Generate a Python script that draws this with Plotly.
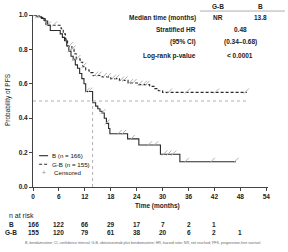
import plotly.graph_objects as go

# ---------------- data ----------------
b_time = [0, 0.8, 2.0, 2.8, 3.4, 4.0, 6.3, 6.8, 7.3, 7.8, 8.3, 8.8, 9.3, 9.8, 10.3, 10.8,
          11.3, 11.8, 12.2, 13.8, 14.5, 15.0, 15.5, 16.0, 16.5, 17.0, 17.5, 17.8, 21.9,
          24.5, 29.5, 34.0, 47.0]
b_surv = [1.0, 0.99, 0.98, 0.965, 0.94, 0.91, 0.89, 0.87, 0.85, 0.82, 0.79, 0.76, 0.74,
          0.71, 0.69, 0.66, 0.63, 0.60, 0.555, 0.49, 0.47, 0.455, 0.44, 0.43, 0.40, 0.37,
          0.34, 0.31, 0.28, 0.244, 0.19, 0.147, 0.147]
b_cens = [1.0, 1.6, 8.6, 9.6, 12.6, 13.2, 16.2, 17.2, 20.0, 21.0, 23.0, 27.0, 28.4,
          30.5, 31.5, 32.6, 35.5, 41.5, 47.0]

g_time = [0, 1.5, 2.5, 3.0, 6.5, 7.0, 7.5, 8.0, 9.0, 9.5, 10.0, 10.9, 11.5, 12.2, 13.0,
          13.9, 16.0, 18.0, 20.0, 22.0, 24.5, 27.0, 28.0, 29.0, 30.0, 49.5]
g_surv = [1.0, 0.985, 0.97, 0.94, 0.92, 0.89, 0.86, 0.82, 0.80, 0.775, 0.745, 0.725,
          0.70, 0.68, 0.665, 0.648, 0.64, 0.63, 0.62, 0.605, 0.595, 0.585, 0.572, 0.56,
          0.55, 0.55]
g_cens = [0.6, 3.6, 5.0, 8.7, 9.3, 10.4, 11.8, 14.5, 15.3, 16.5, 17.5, 18.6, 19.4, 20.5,
          21.3, 22.6, 23.4, 24.8, 25.8, 26.4, 31.6, 35.8, 42.5, 49.4]

risk_months = [0, 6, 12, 18, 24, 30, 36, 42, 48]
risk_b = [166, 122, 66, 29, 17, 7, 2, 1, None]
risk_g = [155, 120, 79, 61, 38, 20, 6, 2, 1]

x_ticks = [0, 6, 12, 18, 24, 30, 36, 42, 48, 54]
y_ticks = [0.0, 0.2, 0.4, 0.6, 0.8, 1.0]

stats_rows = ["Median time (months)", "Stratified HR", "(95% CI)", "Log-rank p-value"]
stats_gb = ["NR", None, None, None]
stats_b = ["13.8", None, None, None]
stats_common = [None, "0.48", "(0.34–0.68)", "< 0.0001"]
median_b = 13.8

footnote = ("B, bendamustine; CI, confidence interval; G-B, obinutuzumab plus bendamustine; "
            "HR, hazard ratio; NR, not reached; PFS, progression-free survival")


def step_at(times, surv, t):
    v = surv[0]
    for tt, ss in zip(times, surv):
        if tt <= t:
            v = ss
    return v


FONT = "Liberation Sans, Arial, sans-serif"
DARK = "#222222"

fig = go.Figure()

# curves
fig.add_trace(go.Scatter(x=b_time, y=b_surv, mode="lines", line_shape="hv",
                         line=dict(color="#2a2a2a", width=1.1), showlegend=False))
fig.add_trace(go.Scatter(x=g_time, y=g_surv, mode="lines", line_shape="hv",
                         line=dict(color="#2a2a2a", width=1.1, dash="3px,2px"),
                         showlegend=False))
# censor marks
fig.add_trace(go.Scatter(x=b_cens, y=[step_at(b_time, b_surv, t) + 0.008 for t in b_cens],
                         mode="markers",
                         marker=dict(symbol="line-ne", size=5,
                                     line=dict(color="#b0b0b0", width=1)),
                         showlegend=False))
fig.add_trace(go.Scatter(x=g_cens, y=[step_at(g_time, g_surv, t) + 0.008 for t in g_cens],
                         mode="markers",
                         marker=dict(symbol="line-ne", size=5,
                                     line=dict(color="#b0b0b0", width=1)),
                         showlegend=False))

shapes = [
    dict(type="line", xref="x", yref="y", x0=0, x1=49.5, y0=0.5, y1=0.5,
         line=dict(color="#9a9a9a", width=0.8, dash="dot")),
    dict(type="line", xref="x", yref="y", x0=median_b, x1=median_b, y0=0, y1=0.5,
         line=dict(color="#9a9a9a", width=0.8, dash="dot")),
    # header rule
    dict(type="line", xref="paper", yref="paper", x0=0.711, x1=1.072, y0=1.023, y1=1.023,
         line=dict(color="#777777", width=0.6)),
    # legend lines
    dict(type="line", xref="paper", yref="paper", x0=0.026, x1=0.064, y0=0.182, y1=0.182,
         line=dict(color="#2a2a2a", width=1.1)),
    dict(type="line", xref="paper", yref="paper", x0=0.026, x1=0.064, y0=0.132, y1=0.132,
         line=dict(color="#2a2a2a", width=1.1, dash="3px,2px")),
]

ann = []


def A(text, x, y, size=6.5, xanchor="center", color=DARK, bold=False, xref="paper", **kw):
    t = f"<b>{text}</b>" if bold else text
    ann.append(dict(text=t, x=x, y=y, xref=xref, yref="paper", showarrow=False,
                    xanchor=xanchor, yanchor="middle",
                    font=dict(family=FONT, size=size, color=color), **kw))


# stats table
A("G-B", 0.787, 1.052, bold=True)
A("B", 0.970, 1.052, bold=True)
row_y = [0.983, 0.913, 0.843, 0.762]
for lbl, gb, b, cm, yy in zip(stats_rows, stats_gb, stats_b, stats_common, row_y):
    A(lbl, 0.702, yy, xanchor="right", bold=True)
    if gb is not None:
        A(gb, 0.787, yy, bold=True)
    if b is not None:
        A(b, 0.970, yy, bold=True)
    if cm is not None:
        A(cm, 0.881, yy, bold=True)

# legend text
A("B (n = 166)", 0.072, 0.182, size=6.2, xanchor="left", color="#111")
A("G-B (n = 155)", 0.072, 0.132, size=6.2, xanchor="left", color="#111")
A("+", 0.045, 0.085, size=6.5, color="#888888")
A("Censored", 0.081, 0.085, size=6.2, xanchor="left", color="#111")

# axis titles
A("Probability of PFS", -0.106, 0.506, size=6.5, textangle=-90)
A("Time (months)", 0.528, -0.112, size=6.5, bold=True)

# risk table
A("n at risk", -0.111, -0.165, size=7, xanchor="left")
A("B", -0.0915, -0.217, size=6.5, bold=True)
A("G-B", -0.0915, -0.266, size=6.5, bold=True)
for m, rb, rg in zip(risk_months, risk_b, risk_g):
    if rb is not None:
        A(str(rb), m, -0.217, size=6.5, bold=True, xref="x")
    if rg is not None:
        A(str(rg), m, -0.266, size=6.5, bold=True, xref="x")

# footnote
A(footnote, 0.47, -0.326, size=3.6, color="#666666")

fig.update_layout(
    width=288, height=252,
    margin=dict(l=33, r=20, t=15, b=65),
    paper_bgcolor="white", plot_bgcolor="white",
    shapes=shapes, annotations=ann,
    xaxis=dict(range=[0, 54.4], tickvals=x_ticks, ticks="outside", ticklen=3,
               tickcolor="#444", showline=True, linecolor="#444", linewidth=1,
               showgrid=False, zeroline=False,
               tickfont=dict(family=FONT, size=6.5, color=DARK, weight="bold")),
    yaxis=dict(range=[0, 1.0], tickvals=y_ticks, tickformat=".1f", ticks="outside",
               ticklen=3, tickcolor="#444", showline=True, linecolor="#444", linewidth=1,
               showgrid=False, zeroline=False,
               tickfont=dict(family=FONT, size=6.5, color=DARK, weight="bold")),
)

fig.write_html("out.html")
